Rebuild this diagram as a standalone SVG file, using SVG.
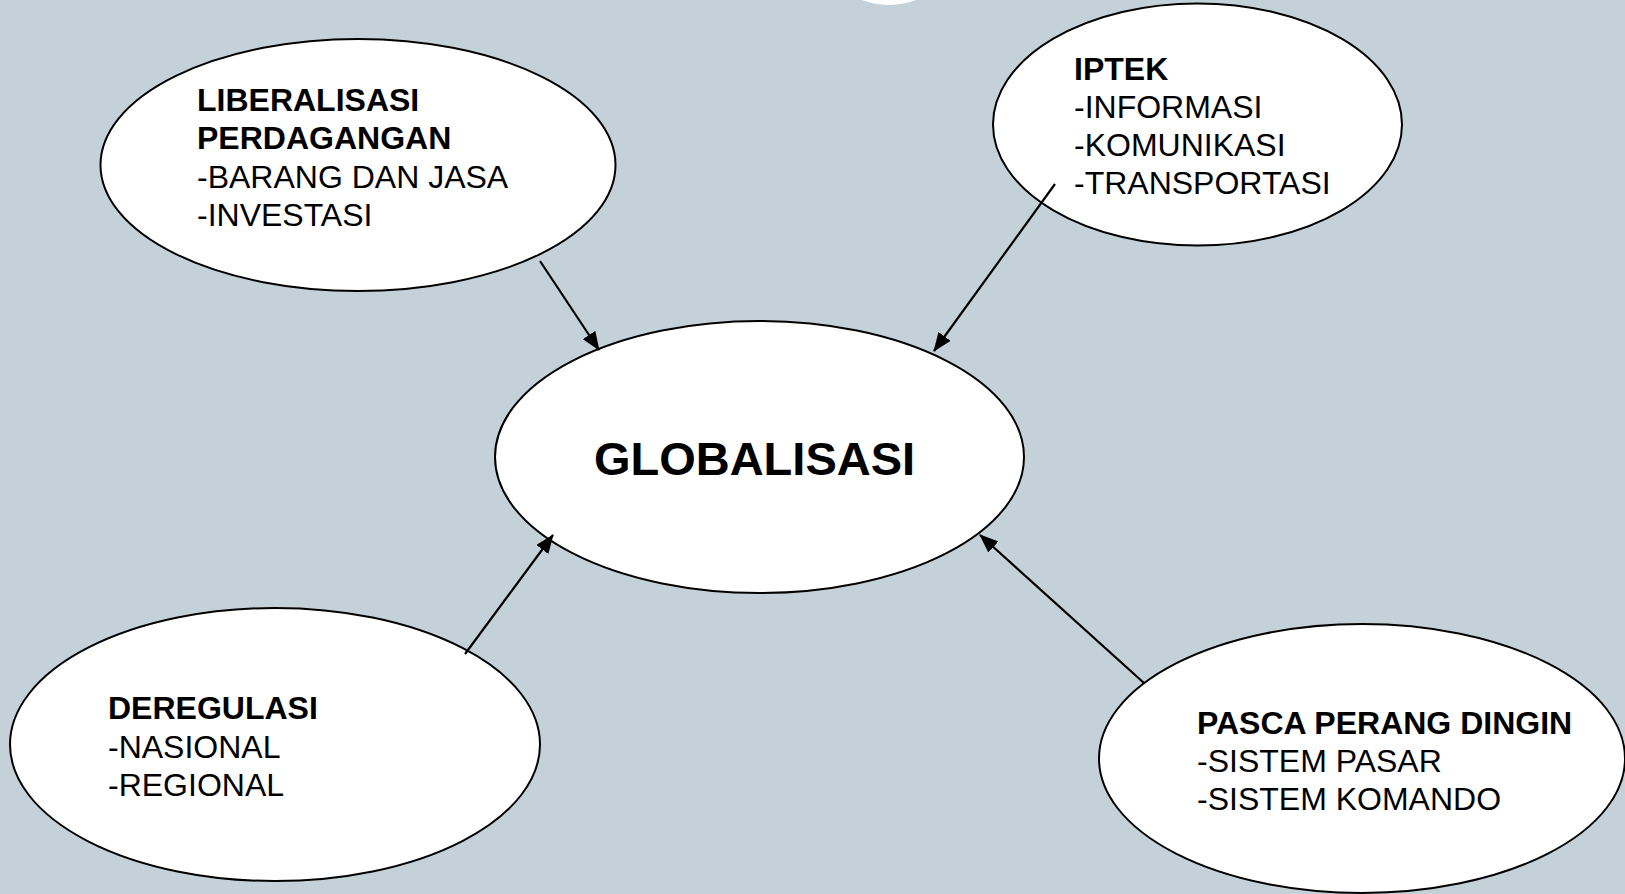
<svg xmlns="http://www.w3.org/2000/svg" width="1625" height="894" viewBox="0 0 1625 894">
<style>
.node ellipse{fill:#ffffff;stroke:#000000;stroke-width:2}
.t{font-family:"Liberation Sans",Arial,sans-serif;font-size:32px;fill:#000000}
.b{font-weight:bold}
.conn line{stroke:#000000;stroke-width:2.2}
</style>
<defs>
<marker id="ah" markerWidth="19" markerHeight="15" refX="18" refY="7.5" orient="auto" markerUnits="userSpaceOnUse" viewBox="0 0 19 15">
<path d="M0,0 L19,7.5 L0,15 z" fill="#000000"/>
</marker>
</defs>
<rect x="0" y="0" width="1625" height="894" fill="#c5d1d8"/>
<circle cx="889" cy="-70" r="75" fill="#ffffff"/>
<g id="liberalisasi" class="node">
<ellipse cx="358" cy="165" rx="257.5" ry="126"/>
<text class="t"><tspan class="b" x="197" y="111">LIBERALISASI</tspan><tspan class="b" x="197" y="149">PERDAGANGAN</tspan><tspan x="197" y="188">-BARANG DAN JASA</tspan><tspan x="197" y="226">-INVESTASI</tspan></text>
</g>
<g id="iptek" class="node">
<ellipse cx="1197.5" cy="124.5" rx="204.5" ry="121"/>
<text class="t"><tspan class="b" x="1074" y="80">IPTEK</tspan><tspan x="1074" y="118">-INFORMASI</tspan><tspan x="1074" y="156">-KOMUNIKASI</tspan><tspan x="1074" y="194">-TRANSPORTASI</tspan></text>
</g>
<g id="globalisasi" class="node">
<ellipse cx="759.5" cy="457" rx="264.5" ry="136"/>
<text class="t b" x="754.5" y="475" text-anchor="middle" style="font-size:47px">GLOBALISASI</text>
</g>
<g id="deregulasi" class="node">
<ellipse cx="275" cy="744.5" rx="265" ry="136.5"/>
<text class="t"><tspan class="b" x="108" y="719">DEREGULASI</tspan><tspan x="108" y="758">-NASIONAL</tspan><tspan x="108" y="796">-REGIONAL</tspan></text>
</g>
<g id="pasca" class="node">
<ellipse cx="1362" cy="758.5" rx="263" ry="134.5"/>
<text class="t"><tspan class="b" x="1197" y="734">PASCA PERANG DINGIN</tspan><tspan x="1197" y="772">-SISTEM PASAR</tspan><tspan x="1197" y="810">-SISTEM KOMANDO</tspan></text>
</g>
<g id="connectors" class="conn">
<line x1="540" y1="261" x2="599" y2="350" marker-end="url(#ah)"/>
<line x1="1055" y1="184" x2="934" y2="351" marker-end="url(#ah)"/>
<line x1="465" y1="654" x2="553" y2="535" marker-end="url(#ah)"/>
<line x1="1144" y1="683" x2="980" y2="535" marker-end="url(#ah)"/>
</g>
</svg>
